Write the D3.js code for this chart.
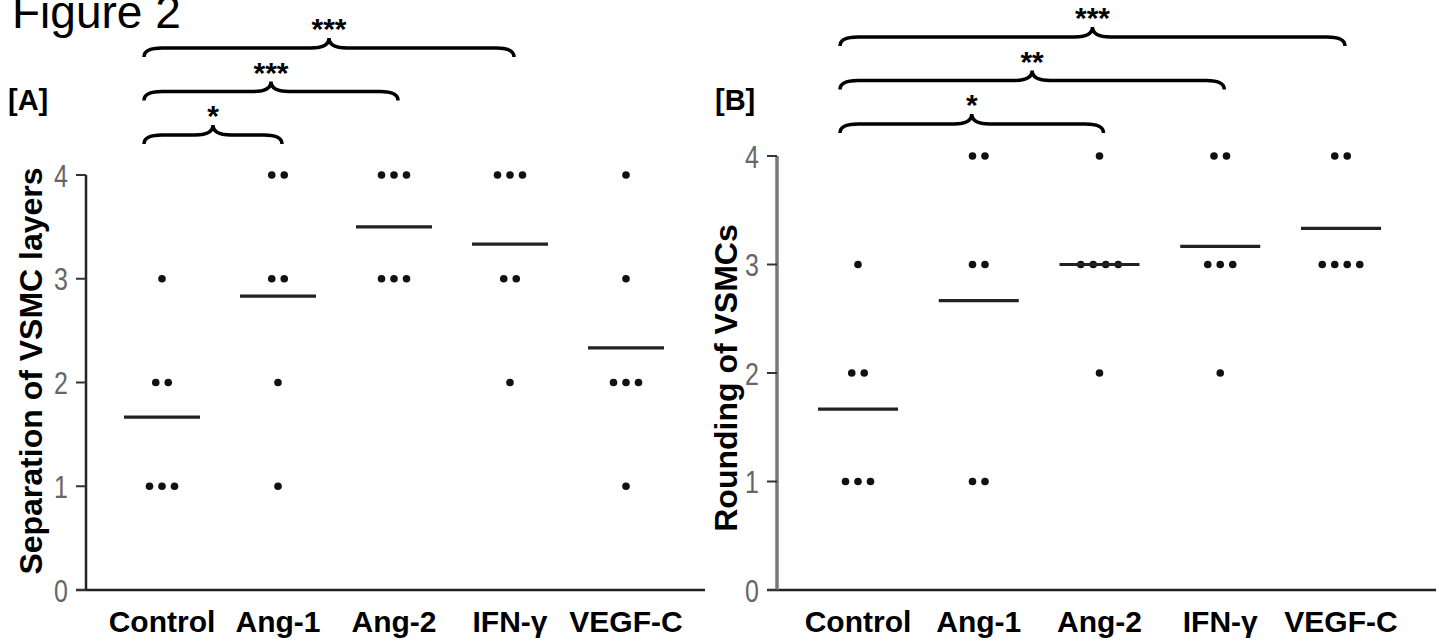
<!DOCTYPE html>
<html>
<head>
<meta charset="utf-8">
<script src="https://cdn.jsdelivr.net/npm/d3@7"></script>
<style>
  body { margin: 0; background: #fff; }
  svg { display: block; font-family: "Liberation Sans", Arial, sans-serif; }
  .tick-lbl { font-family: "Liberation Sans", Arial, sans-serif; font-size: 32px; fill: #666; }
  .cat { font-size: 30px; font-weight: bold; }
  .ylab { font-size: 32px; font-weight: bold; }
  .panel { font-size: 29px; font-weight: bold; }
  .star { font-size: 30px; font-weight: bold; }
</style>
</head>
<body>
<div id="chart"></div>
<script>

var categories = ["Control", "Ang-1", "Ang-2", "IFN-γ", "VEGF-C"];
var yTicks = [0, 1, 2, 3, 4];

// scores per animal, one array per group
var separationScores = [
	[3, 2, 2, 1, 1, 1],
	[4, 4, 3, 3, 2, 1],
	[4, 4, 4, 3, 3, 3],
	[4, 4, 4, 3, 3, 2],
	[4, 3, 2, 2, 2, 1]
];
var roundingScores = [
	[3, 2, 2, 1, 1, 1],
	[4, 4, 3, 3, 1, 1],
	[4, 3, 3, 3, 3, 2],
	[4, 4, 3, 3, 3, 2],
	[4, 4, 3, 3, 3, 3]
];

var separationStars = [["Control", "Ang-1", "*"], ["Control", "Ang-2", "***"], ["Control", "IFN-γ", "***"]];
var roundingStars = [["Control", "Ang-2", "*"], ["Control", "IFN-γ", "**"], ["Control", "VEGF-C", "***"]];

var svg = d3.select("#chart").append("svg").attr("width", 1439).attr("height", 643);

svg.append("text").attr("x", 12).attr("y", 28)
	.style("font-size", "46px").text("Figure 2");

function drawPanel(cfg){
	var g = svg.append("g");
	var y = d3.scaleLinear().domain([0, 4]).range([590, cfg.top]);
	var x = d3.scalePoint().domain(categories).range(cfg.xRange);

	// axes
	g.append("line").attr("x1", cfg.axisX - 10).attr("x2", cfg.xEnd)
		.attr("y1", y(0)).attr("y2", y(0))
		.attr("stroke", "#222").attr("stroke-width", 2.5);
	g.append("line").attr("x1", cfg.axisX).attr("x2", cfg.axisX)
		.attr("y1", y(4)).attr("y2", y(0))
		.attr("stroke", cfg.axisColor).attr("stroke-width", cfg.axisWidth);

	g.selectAll(".tk").data(yTicks).enter().append("line")
		.attr("x1", cfg.axisX - 10).attr("x2", cfg.axisX)
		.attr("y1", function(d){ return y(d); }).attr("y2", function(d){ return y(d); })
		.attr("stroke", "#333").attr("stroke-width", 2);

	// narrow grey digits
	g.selectAll(".tick-lbl").data(yTicks).enter().append("text")
		.attr("class", "tick-lbl")
		.attr("transform", function(d){ return "translate(" + (cfg.axisX - 18) + "," + y(d) + ") scale(0.78,1)"; })
		.attr("dy", "0.36em").style("text-anchor", "end")
		.text(function(d){ return d; });

	g.selectAll(".cat").data(categories).enter().append("text")
		.attr("class", "cat")
		.attr("x", function(d){ return x(d); }).attr("y", 632)
		.style("text-anchor", "middle")
		.text(function(d){ return d; });

	g.append("text").attr("class", "ylab")
		.attr("transform", "translate(" + cfg.ylabX + "," + cfg.ylabY + ") rotate(-90)")
		.style("text-anchor", "middle").text(cfg.ylabel);

	g.append("text").attr("class", "panel")
		.attr("x", cfg.panelX).attr("y", 110).text(cfg.panel);

	// dots and mean lines
	cfg.scores.forEach(function(vals, i){
		var cx = x(categories[i]);
		var counts = d3.rollup(vals, function(v){ return v.length; }, function(d){ return d; });
		counts.forEach(function(n, v){
			for(var k = 0; k < n; k++){
				g.append("circle")
					.attr("cx", cx + (k - (n - 1) / 2) * 12.5)
					.attr("cy", y(v))
					.attr("r", 3.8)
					.attr("fill", "#111");
			}
		});
		var m = d3.mean(vals);
		g.append("line")
			.attr("x1", cx - cfg.meanHalf).attr("x2", cx + cfg.meanHalf)
			.attr("y1", y(m)).attr("y2", y(m))
			.attr("stroke", "#222").attr("stroke-width", 3.2);
	});

	// significance braces
	cfg.stars.forEach(function(s, lvl){
		var x1 = x(s[0]) - 18, x2 = x(s[1]) + 4;
		var xm = (x1 + x2) / 2;
		var yh = cfg.braceY - lvl * 43.5;
		var w = 18;
		var p = "M" + x1 + "," + (yh + 9) +
			" Q" + x1 + "," + yh + " " + (x1 + w) + "," + yh +
			" L" + (xm - w) + "," + yh +
			" Q" + xm + "," + yh + " " + xm + "," + (yh - 10) +
			" Q" + xm + "," + yh + " " + (xm + w) + "," + yh +
			" L" + (x2 - w) + "," + yh +
			" Q" + x2 + "," + yh + " " + x2 + "," + (yh + 9);
		g.append("path").attr("d", p).attr("fill", "none")
			.attr("stroke", "#000").attr("stroke-width", 3.5);
		g.append("text").attr("class", "star")
			.attr("x", xm).attr("y", yh - 26 + 17)
			.style("text-anchor", "middle").text(s[2]);
	});
}

drawPanel({
	top: 175, axisX: 86, xEnd: 705, xRange: [162, 626],
	axisColor: "#222", axisWidth: 2.5, meanHalf: 38,
	ylabel: "Separation of VSMC layers", ylabX: 42, ylabY: 371,
	panel: "[A]", panelX: 8, scores: separationScores,
	stars: separationStars, braceY: 135
});

drawPanel({
	top: 156, axisX: 777, xEnd: 1436, xRange: [858, 1341],
	axisColor: "#777", axisWidth: 3.5, meanHalf: 40,
	ylabel: "Rounding of VSMCs", ylabX: 737, ylabY: 378,
	panel: "[B]", panelX: 715, scores: roundingScores,
	stars: roundingStars, braceY: 124
});

</script>
</body>
</html>
